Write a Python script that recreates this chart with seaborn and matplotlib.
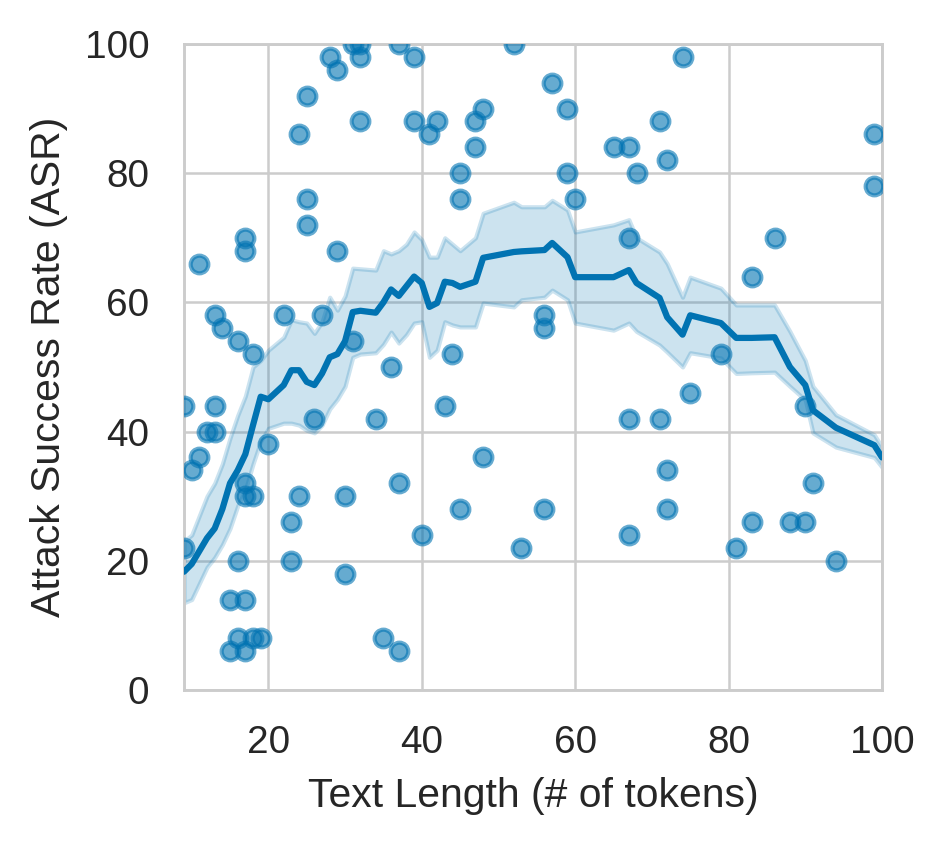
import matplotlib
matplotlib.use("Agg")
import matplotlib.pyplot as plt
import pandas as pd
import seaborn as sns

# scatter: text length (tokens) vs attack success rate
lengths = [9, 9, 10, 11, 11, 12, 13, 13, 13, 14, 15, 15, 16, 16, 16, 17, 17, 17, 17, 17,
           17, 18, 18, 18, 19, 20, 22, 23, 23, 24, 24, 25, 25, 25, 26, 27, 28, 29, 29, 30,
           30, 31, 31, 32, 32, 32, 34, 35, 36, 37, 37, 37, 39, 39, 40, 41, 42, 43, 44, 45,
           45, 45, 47, 47, 48, 48, 52, 53, 56, 56, 56, 57, 59, 59, 60, 65, 67, 67, 67, 67,
           68, 71, 71, 72, 72, 72, 74, 75, 79, 81, 83, 83, 86, 88, 90, 90, 91, 94, 99, 99]
asr = [44, 22, 34, 36, 66, 40, 40, 58, 44, 56, 14, 6, 54, 20, 8, 70, 68, 32, 30, 14,
       6, 52, 30, 8, 8, 38, 58, 26, 20, 86, 30, 92, 76, 72, 42, 58, 98, 96, 68, 30,
       18, 100, 54, 100, 98, 88, 42, 8, 50, 100, 32, 6, 98, 88, 24, 86, 88, 44, 52, 80,
       76, 28, 88, 84, 90, 36, 100, 22, 58, 56, 28, 94, 90, 80, 76, 84, 84, 70, 42, 24,
       80, 88, 42, 82, 34, 28, 98, 46, 52, 22, 64, 26, 70, 26, 44, 26, 32, 20, 86, 78]

# smoothed trend with its confidence band
trend_x = [9, 10, 11, 12, 13, 14, 15, 16, 17, 18, 19, 20, 22, 23, 24, 25, 26, 27, 28, 29,
           30, 31, 32, 34, 35, 36, 37, 38, 39, 40, 41, 42, 43, 44, 45, 47, 48, 52, 53, 56,
           57, 59, 60, 65, 67, 68, 71, 72, 74, 75, 79, 81, 83, 86, 88, 90, 91, 94, 99, 100]
trend_mean = [18.3, 19.5, 21.5, 23.5, 25, 28, 32, 34, 36.5, 41, 45.4, 45, 47.2, 49.5, 49.5, 47.7,
              47.2, 49, 51.5, 52, 54, 58.5, 58.7, 58.4, 60, 62, 61, 62.5, 64, 63, 59.3, 59.9,
              63.2, 63, 62.4, 63.2, 66.9, 67.8, 67.9, 68.1, 69.2, 67, 63.9, 63.9, 65, 63, 60.7,
              57.7, 55, 58, 56.8, 54.5, 54.5, 54.6, 50, 47.2, 43.3, 40.6, 37.9, 36]
trend_lo = [13.5, 14, 16.5, 19, 20.5, 22.5, 25, 28.5, 31, 35, 38.5, 40.5, 41.3, 41.3, 41, 40.2,
            39.8, 41, 43.5, 45, 47, 51.5, 52, 52.2, 53.5, 55.4, 53.7, 55, 56.8, 57, 51.5, 52.6,
            57, 56.5, 56.2, 56.2, 59.9, 59.3, 60.4, 60.8, 61.9, 60.4, 56.8, 55.7, 56.8, 55.5, 53.4,
            52.3, 50, 52.2, 51.4, 49, 49.1, 49.2, 47, 44.9, 39.8, 37.6, 36, 34.5]
trend_hi = [23, 24, 27, 30, 32, 35, 39, 42.5, 45.5, 50, 51, 52.6, 54.6, 57.3, 57, 56.8,
            55.2, 57, 60.8, 58.8, 61, 65.3, 65.2, 65, 68, 67.5, 68, 69, 70.9, 69.7, 67, 67,
            70, 69, 68, 70, 73.8, 75.5, 74.8, 74.8, 75.8, 74.3, 70.9, 72, 72.8, 70, 67.8,
            66, 60.8, 63.9, 62.2, 59.6, 59.6, 59.6, 55.5, 51, 47, 42.6, 39.5, 37.6]

points = pd.DataFrame({"length": lengths, "asr": asr})
trend = pd.DataFrame({"length": trend_x, "asr": trend_mean, "lo": trend_lo, "hi": trend_hi})

sns.set_theme(context="paper", style="whitegrid", rc={
    "axes.edgecolor": ".8",
    "axes.linewidth": 0.7,
    "grid.color": ".8",
    "grid.linewidth": 0.6,
})
plt.rcParams["font.family"] = ["Liberation Sans", "DejaVu Sans"]

blue = sns.color_palette("colorblind")[0]

fig, ax = plt.subplots(figsize=(946 / 300, 844 / 300), dpi=300)
fig.subplots_adjust(left=0.1945, right=0.9323, bottom=0.1825, top=0.9479)

sns.scatterplot(data=points, x="length", y="asr", ax=ax, color=blue, alpha=0.6,
                s=18, edgecolor=blue, linewidth=1.0, zorder=3)
ax.fill_between(trend["length"], trend["lo"], trend["hi"], color=blue, alpha=0.2,
                linewidth=1.0, zorder=2)
sns.lineplot(data=trend, x="length", y="asr", ax=ax, color=blue, linewidth=1.5, zorder=4)

ax.set_xlim(9, 100)
ax.set_ylim(0, 100)
ax.set_xticks([20, 40, 60, 80, 100])
ax.set_yticks([0, 20, 40, 60, 80, 100])
ax.tick_params(labelsize=9.3)
ax.set_xlabel("Text Length (# of tokens)", fontsize=9.8)
ax.set_ylabel("Attack Success Rate (ASR)", fontsize=9.8)

fig.savefig("out.png", dpi=300)
